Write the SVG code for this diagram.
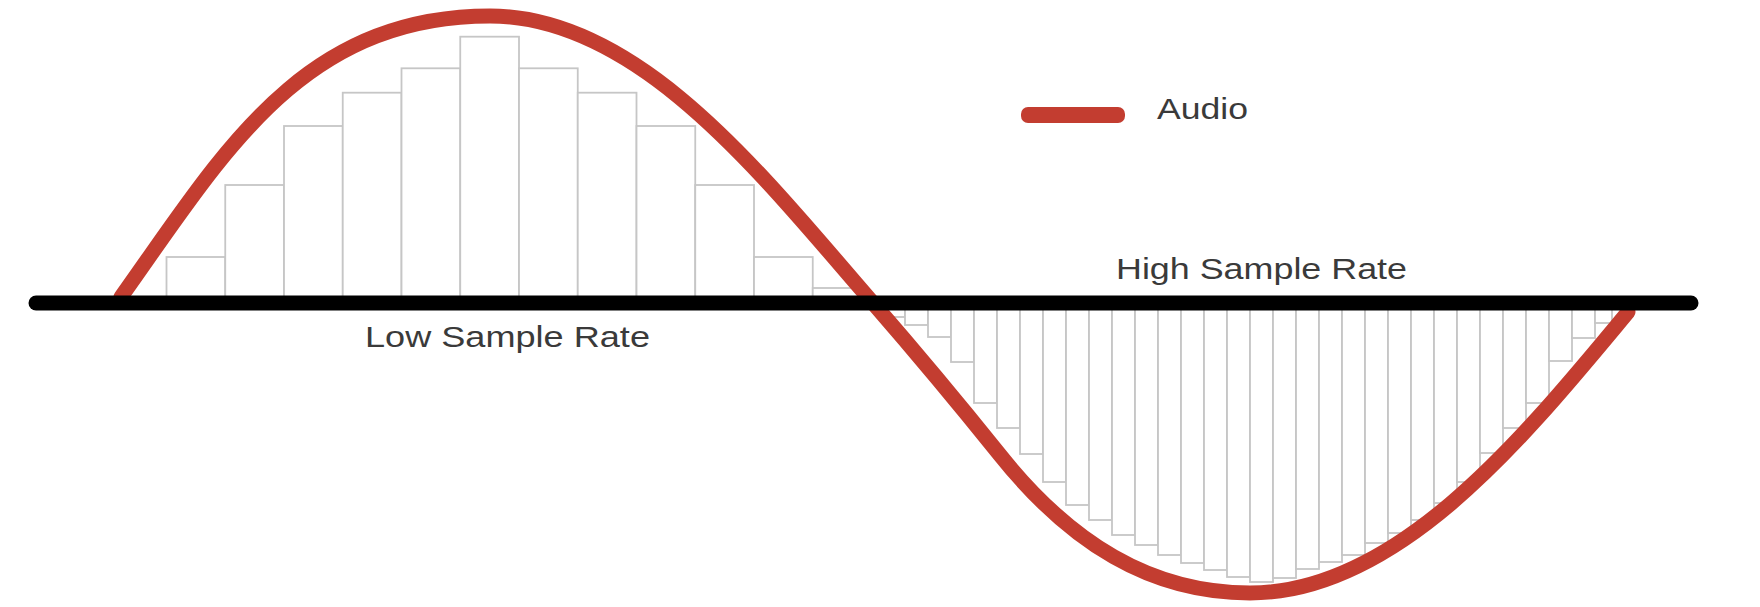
<svg xmlns="http://www.w3.org/2000/svg" width="1760" height="607" viewBox="0 0 1760 607">
<style>
.bar{fill:#fff;stroke:#c6c6c6;stroke-width:1.8}
.axis{stroke:#000;stroke-width:15;stroke-linecap:round;fill:none}
.wave{fill:none;stroke:#c33d30;stroke-width:15;stroke-linecap:round;stroke-linejoin:round}
.lbl{font-family:"Liberation Sans",Arial,sans-serif;font-size:29.5px;fill:#3a3a3a}
</style>
<rect width="1760" height="607" fill="#fff"/>
<g id="low-rate-samples">
<rect class="bar" x="166.5" y="257" width="58.75" height="43"/>
<rect class="bar" x="225.25" y="185" width="58.75" height="115"/>
<rect class="bar" x="284" y="126" width="58.75" height="174"/>
<rect class="bar" x="342.75" y="92.7" width="58.75" height="207.3"/>
<rect class="bar" x="401.5" y="68.3" width="58.75" height="231.7"/>
<rect class="bar" x="460.25" y="36.7" width="58.75" height="263.3"/>
<rect class="bar" x="519" y="68.3" width="58.75" height="231.7"/>
<rect class="bar" x="577.75" y="92.7" width="58.75" height="207.3"/>
<rect class="bar" x="636.5" y="126" width="58.75" height="174"/>
<rect class="bar" x="695.25" y="185" width="58.75" height="115"/>
<rect class="bar" x="754" y="257" width="58.75" height="43"/>
<rect class="bar" x="812.75" y="288" width="50" height="12"/>
</g>
<g id="high-rate-samples">
<rect class="bar" x="884" y="306" width="21" height="11"/>
<rect class="bar" x="905" y="306" width="23" height="19"/>
<rect class="bar" x="928" y="306" width="23" height="31"/>
<rect class="bar" x="951" y="306" width="23" height="56"/>
<rect class="bar" x="974" y="306" width="23" height="97"/>
<rect class="bar" x="997" y="306" width="23" height="122"/>
<rect class="bar" x="1020" y="306" width="23" height="148"/>
<rect class="bar" x="1043" y="306" width="23" height="176"/>
<rect class="bar" x="1066" y="306" width="23" height="199"/>
<rect class="bar" x="1089" y="306" width="23" height="214"/>
<rect class="bar" x="1112" y="306" width="23" height="229"/>
<rect class="bar" x="1135" y="306" width="23" height="239"/>
<rect class="bar" x="1158" y="306" width="23" height="249"/>
<rect class="bar" x="1181" y="306" width="23" height="257"/>
<rect class="bar" x="1204" y="306" width="23" height="264"/>
<rect class="bar" x="1227" y="306" width="23" height="271"/>
<rect class="bar" x="1250" y="306" width="23" height="276"/>
<rect class="bar" x="1273" y="306" width="23" height="272"/>
<rect class="bar" x="1296" y="306" width="23" height="263"/>
<rect class="bar" x="1319" y="306" width="23" height="256"/>
<rect class="bar" x="1342" y="306" width="23" height="249"/>
<rect class="bar" x="1365" y="306" width="23" height="237"/>
<rect class="bar" x="1388" y="306" width="23" height="227"/>
<rect class="bar" x="1411" y="306" width="23" height="214"/>
<rect class="bar" x="1434" y="306" width="23" height="197"/>
<rect class="bar" x="1457" y="306" width="23" height="176"/>
<rect class="bar" x="1480" y="306" width="23" height="147"/>
<rect class="bar" x="1503" y="306" width="23" height="122"/>
<rect class="bar" x="1526" y="306" width="23" height="97"/>
<rect class="bar" x="1549" y="306" width="23" height="55"/>
<rect class="bar" x="1572" y="306" width="23" height="32"/>
<rect class="bar" x="1595" y="306" width="17" height="17"/>
</g>
<g id="audio-wave">
<path class="wave" d="M121,297 C221,157 300,16 490,16 C640,16 763,176.5 873,303 C913,349 955,399 1000,455 C1070,542.5 1150,593 1250,593 C1400,593 1528,432 1628,312"/>
</g>
<g id="axis">
<line class="axis" x1="36" y1="303" x2="1691" y2="303"/>
</g>
<g id="legend">
<rect x="1021" y="107" width="104" height="16" rx="7" fill="#c33d30"/>
<text class="lbl" x="1157" y="119" textLength="91" lengthAdjust="spacingAndGlyphs">Audio</text>
</g>
<g id="labels">
<text class="lbl" x="365" y="347" textLength="285" lengthAdjust="spacingAndGlyphs">Low Sample Rate</text>
<text class="lbl" x="1116" y="279" textLength="291" lengthAdjust="spacingAndGlyphs">High Sample Rate</text>
</g>
</svg>
